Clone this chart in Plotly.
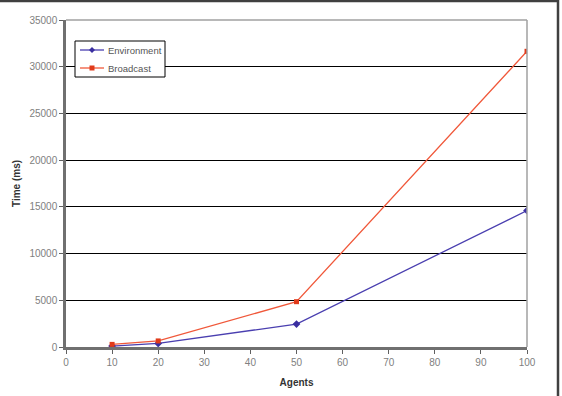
import plotly.graph_objects as go

agents = [10, 20, 50, 100]
environment = [100, 380, 2450, 14600]
broadcast = [280, 650, 4850, 31650]
x_ticks = [0, 10, 20, 30, 40, 50, 60, 70, 80, 90, 100]
y_ticks = [0, 5000, 10000, 15000, 20000, 25000, 30000, 35000]
series_names = ["Environment", "Broadcast"]
line_colors = ["#4a3fb0", "#f0583a"]
marker_colors = ["#3a2fa0", "#e03a1a"]

W, H = 562, 396
L, R, T, B = 66, 35, 20, 49
pw, ph = W - L - R, H - T - B


def px(x):
    return (x - L) / pw


def py(y):
    return (H - B - y) / ph


FONT = "Liberation Sans, Arial, sans-serif"

fig = go.Figure()
fig.add_trace(go.Scatter(x=agents, y=environment, name=series_names[0], mode="lines+markers",
                         line=dict(color=line_colors[0], width=1.3),
                         marker=dict(symbol="diamond", size=6, color=marker_colors[0])))
fig.add_trace(go.Scatter(x=agents, y=broadcast, name=series_names[1], mode="lines+markers",
                         line=dict(color=line_colors[1], width=1.3),
                         marker=dict(symbol="square", size=5, color=marker_colors[1])))

fig.update_layout(
    width=W, height=H,
    margin=dict(l=L, r=R, t=T, b=B),
    paper_bgcolor="white", plot_bgcolor="white",
    font=dict(family=FONT, size=10, color="#555555"),
    showlegend=False,
    xaxis=dict(range=[0, 100], tickvals=x_ticks, ticktext=[str(v) for v in x_ticks],
               showgrid=False, zeroline=False, automargin=False,
               showline=True, linecolor="#707070", linewidth=2.5,
               ticks="outside", ticklen=4, tickcolor="#606060", tickwidth=1,
               title=dict(text="<b>Agents</b>", font=dict(size=10, color="#333333"), standoff=13),
               tickfont=dict(size=10, color="#808080")),
    yaxis=dict(range=[0, 35000], tickvals=y_ticks, ticktext=[str(v) for v in y_ticks],
               showgrid=True, gridcolor="black", gridwidth=1, automargin=False,
               zeroline=False, showline=True, linecolor="#707070", linewidth=2.5,
               ticks="outside", ticklen=4, tickcolor="#606060", tickwidth=1,
               title=dict(text="<b>Time (ms)</b>", font=dict(size=10, color="#333333"), standoff=7),
               tickfont=dict(size=10, color="#808080")),
)
# plot area top/right edges
fig.add_shape(type="line", xref="paper", yref="paper", x0=0, x1=1, y0=1, y1=1,
              line=dict(color="#a0a0a0", width=1.5))
fig.add_shape(type="line", xref="paper", yref="paper", x0=1, x1=1, y0=0, y1=1,
              line=dict(color="#a0a0a0", width=1.5))
# outer chart border (top & right visible)
fig.add_shape(type="rect", xref="paper", yref="paper",
              x0=-0.3, x1=px(558), y0=-0.3, y1=py(1),
              line=dict(color="#404040", width=2.5), layer="below")

# compact legend (Excel style)
fig.add_shape(type="rect", xref="paper", yref="paper",
              x0=px(75), x1=px(165), y0=py(77), y1=py(41),
              line=dict(color="black", width=1), fillcolor="white")
rows = [50, 68]
for i, name in enumerate(series_names):
    yy = rows[i]
    fig.add_shape(type="line", xref="paper", yref="paper",
                  x0=px(80), x1=px(104), y0=py(yy), y1=py(yy),
                  line=dict(color=line_colors[i], width=1.3))
    if i == 0:
        path = "M {0} {1} L {2} {3} L {0} {4} L {5} {3} Z".format(
            px(92), py(yy - 3), px(95), py(yy), py(yy + 3), px(89))
        fig.add_shape(type="path", xref="paper", yref="paper", path=path,
                      fillcolor=marker_colors[i], line=dict(width=0))
    else:
        fig.add_shape(type="rect", xref="paper", yref="paper",
                      x0=px(89.5), x1=px(94.5), y0=py(yy + 2.5), y1=py(yy - 2.5),
                      fillcolor=marker_colors[i], line=dict(width=0))
    fig.add_annotation(xref="paper", yref="paper", x=px(106), y=py(yy),
                       xanchor="left", yanchor="middle", showarrow=False,
                       text=name, font=dict(family=FONT, size=9.5, color="#555555"))

fig.write_html("out.html")
